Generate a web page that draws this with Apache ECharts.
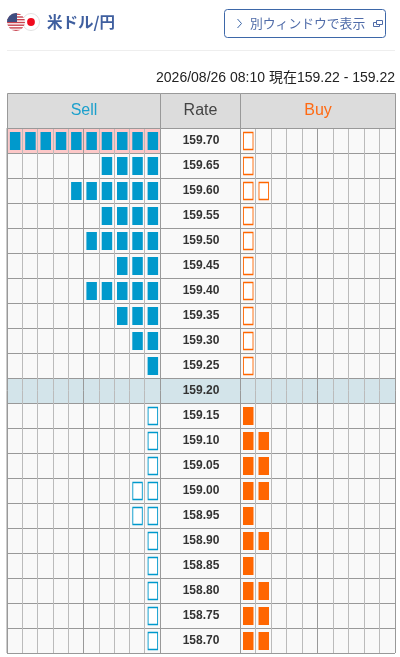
<!DOCTYPE html>
<html><head><meta charset="utf-8">
<style>html,body{margin:0;padding:0;background:#fff}#c{width:400px;height:657px}</style>
<script src="https://cdn.jsdelivr.net/npm/echarts@6/dist/echarts.min.js"></script>
</head><body><div id="c"></div>
<script>
const rates = ['159.70','159.65','159.60','159.55','159.50','159.45','159.40','159.35','159.30','159.25','159.20','159.15','159.10','159.05','159.00','158.95','158.90','158.85','158.80','158.75','158.70'];
const sellCounts = [10,4,6,4,5,3,5,3,2,1,0,1,1,1,2,2,1,1,1,1,1];
const buyCounts  = [1,1,2,1,1,1,1,1,1,1,0,1,2,2,2,1,2,1,2,2,2];
const midRate = '159.20';
const highlightRate = '159.70';
const stamp = '2026/08/26 08:10 現在159.22 - 159.22';
const pairTitle = '米ドル/円';
const buttonLabel = '別ウィンドウで表示';
const headers = ['Sell','Rate','Buy'];

const FONT = '"Liberation Sans",Arial,"Noto Sans CJK JP",sans-serif';
const CJK = '"Noto Sans CJK JP","Liberation Sans",sans-serif';
const BLUE='#0099cc', ORANGE='#ff6600', LINE='#999', LINE2='#bbb', CELL='#f9f9f9', MID='#d3e4ea', PINK='#fcc8c8';
const midIdx = rates.indexOf(midRate);
const marks = (counts, above) => {
  const out=[];
  counts.forEach((n,i)=>{
    if ((i<midIdx)===above) for(let k=1;k<=n;k++) out.push([k-0.5,rates[i]]);
  });
  return out;
};
const rowColors = hi => rates.map(r => r===midRate?MID:(hi&&r===highlightRate?PINK:CELL));
const gridTop=128, gridH=525;
const yAxis=(g,hi,lab)=>({type:'category',gridIndex:g,data:rates,inverse:true,
  axisLine:{show:false},axisTick:{show:false},
  axisLabel: lab?{show:true,interval:0,margin:-41,align:'center',padding:[2,0,0,0],fontFamily:FONT,fontSize:12,fontWeight:'bold',color:'#333'}:{show:false},
  splitLine:{show:true,interval:0,lineStyle:{color:LINE,width:1}},
  splitArea:{show:true,interval:0,areaStyle:{color:rowColors(hi)}}});
const xAxis=(g,inv,n)=>({type:'value',gridIndex:g,min:0,max:n,interval:1,inverse:inv,
  axisLine:{show:false},axisTick:{show:false},axisLabel:{show:false},
  splitLine:{show:n>1,lineStyle:{color:[LINE,LINE2,LINE2,LINE2,LINE2],width:1}}});
const mk=(g,data,color,filled)=>({type:'scatter',xAxisIndex:g,yAxisIndex:g,data,symbol:'rect',
  symbolSize:filled?[10.5,18]:[9.5,17],symbolOffset:[0.5,0.5],silent:true,
  itemStyle:{color:filled?color:'#fff',borderColor:color,borderWidth:filled?0:1.2,opacity:1}});
const flagUS=`<svg xmlns="http://www.w3.org/2000/svg" width="18" height="18"><defs><clipPath id="a"><circle cx="9" cy="9" r="9"/></clipPath></defs><g clip-path="url(#a)"><rect width="18" height="18" fill="#fff"/><g fill="#c8434f"><rect y="0.5" width="18" height="1.4"/><rect y="3.3" width="18" height="1.4"/><rect y="6" width="18" height="1.4"/><rect y="8.8" width="18" height="1.4"/><rect y="11.5" width="18" height="1.4"/><rect y="14.2" width="18" height="1.4"/><rect y="16.8" width="18" height="1.4"/></g><rect width="10" height="9" fill="#3f4d80"/></g></svg>`;
const flagJP=`<svg xmlns="http://www.w3.org/2000/svg" width="18" height="18"><circle cx="9" cy="9" r="8.5" fill="#fff" stroke="#e2e2e2" stroke-width="1"/><circle cx="9" cy="9" r="3.9" fill="#f00a1e"/></svg>`;
const uri=s=>'data:image/svg+xml;charset=utf-8,'+encodeURIComponent(s);
const hdrCell=(x,w,t,col)=>[
  {type:'rect',shape:{x:x+.5,y:93.5,width:w,height:35},style:{fill:'#dcdcdc',stroke:LINE,lineWidth:1},z:5},
  {type:'text',x:x+w/2+.5,y:111,style:{text:t,fill:col,font:'16px '+FONT,align:'center',verticalAlign:'middle'},z:6}];
const chart=echarts.init(document.getElementById('c'),null,{renderer:'canvas'});
chart.setOption({
  animation:false,
  grid:[
    {left:7,top:gridTop,width:153,height:gridH,show:true,borderColor:LINE,backgroundColor:'transparent'},
    {left:160,top:gridTop,width:80,height:gridH,show:true,borderColor:LINE,backgroundColor:'transparent'},
    {left:240,top:gridTop,width:155,height:gridH,show:true,borderColor:LINE,backgroundColor:'transparent'}],
  xAxis:[xAxis(0,true,10),xAxis(1,false,1),xAxis(2,false,10)],
  yAxis:[yAxis(0,true,false),yAxis(1,false,true),yAxis(2,false,false)],
  series:[
    mk(0,marks(sellCounts,true),BLUE,true),
    mk(0,marks(sellCounts,false),BLUE,false),
    mk(2,marks(buyCounts,true),ORANGE,false),
    mk(2,marks(buyCounts,false),ORANGE,true)],
  graphic:[
    {type:'image',style:{image:uri(flagJP),x:22,y:13,width:18,height:18},z:5},
    {type:'image',style:{image:uri(flagUS),x:7,y:13,width:18,height:18},z:6},
    {type:'text',x:47,y:22,style:{text:pairTitle,fill:'#3f5f9f',font:'bold 15.5px '+CJK,verticalAlign:'middle'},z:5},
    {type:'rect',shape:{x:224.5,y:9.5,width:161,height:28,r:3},style:{fill:'#fff',stroke:'#3d67a8',lineWidth:1},z:5},
    {type:'polyline',shape:{points:[[237.5,19],[241.5,23.5],[237.5,28]]},style:{fill:'none',stroke:'#3d67a8',lineWidth:1},z:6},
    {type:'text',x:250,y:23,style:{text:buttonLabel,fill:'#4f6ba8',font:'12.8px '+CJK,verticalAlign:'middle'},z:6},
    {type:'rect',shape:{x:373.5,y:22.5,width:6,height:4},style:{fill:'#fff',stroke:'#4f6ba8',lineWidth:1},z:6},
    {type:'rect',shape:{x:376.5,y:20.5,width:6,height:4},style:{fill:'#fff',stroke:'#4f6ba8',lineWidth:1},z:6},
    {type:'line',shape:{x1:7,y1:50.5,x2:395,y2:50.5},style:{stroke:'#eeeeee',lineWidth:1},z:5},
    {type:'text',x:395,y:78,style:{text:stamp,fill:'#222',font:'14px '+FONT,align:'right',verticalAlign:'middle'},z:5},
    ...hdrCell(7,153,headers[0],'#1ca0cc'),
    ...hdrCell(160,80,headers[1],'#444'),
    ...hdrCell(240,155,headers[2],'#ff6a13')
  ]
});
</script></body></html>
